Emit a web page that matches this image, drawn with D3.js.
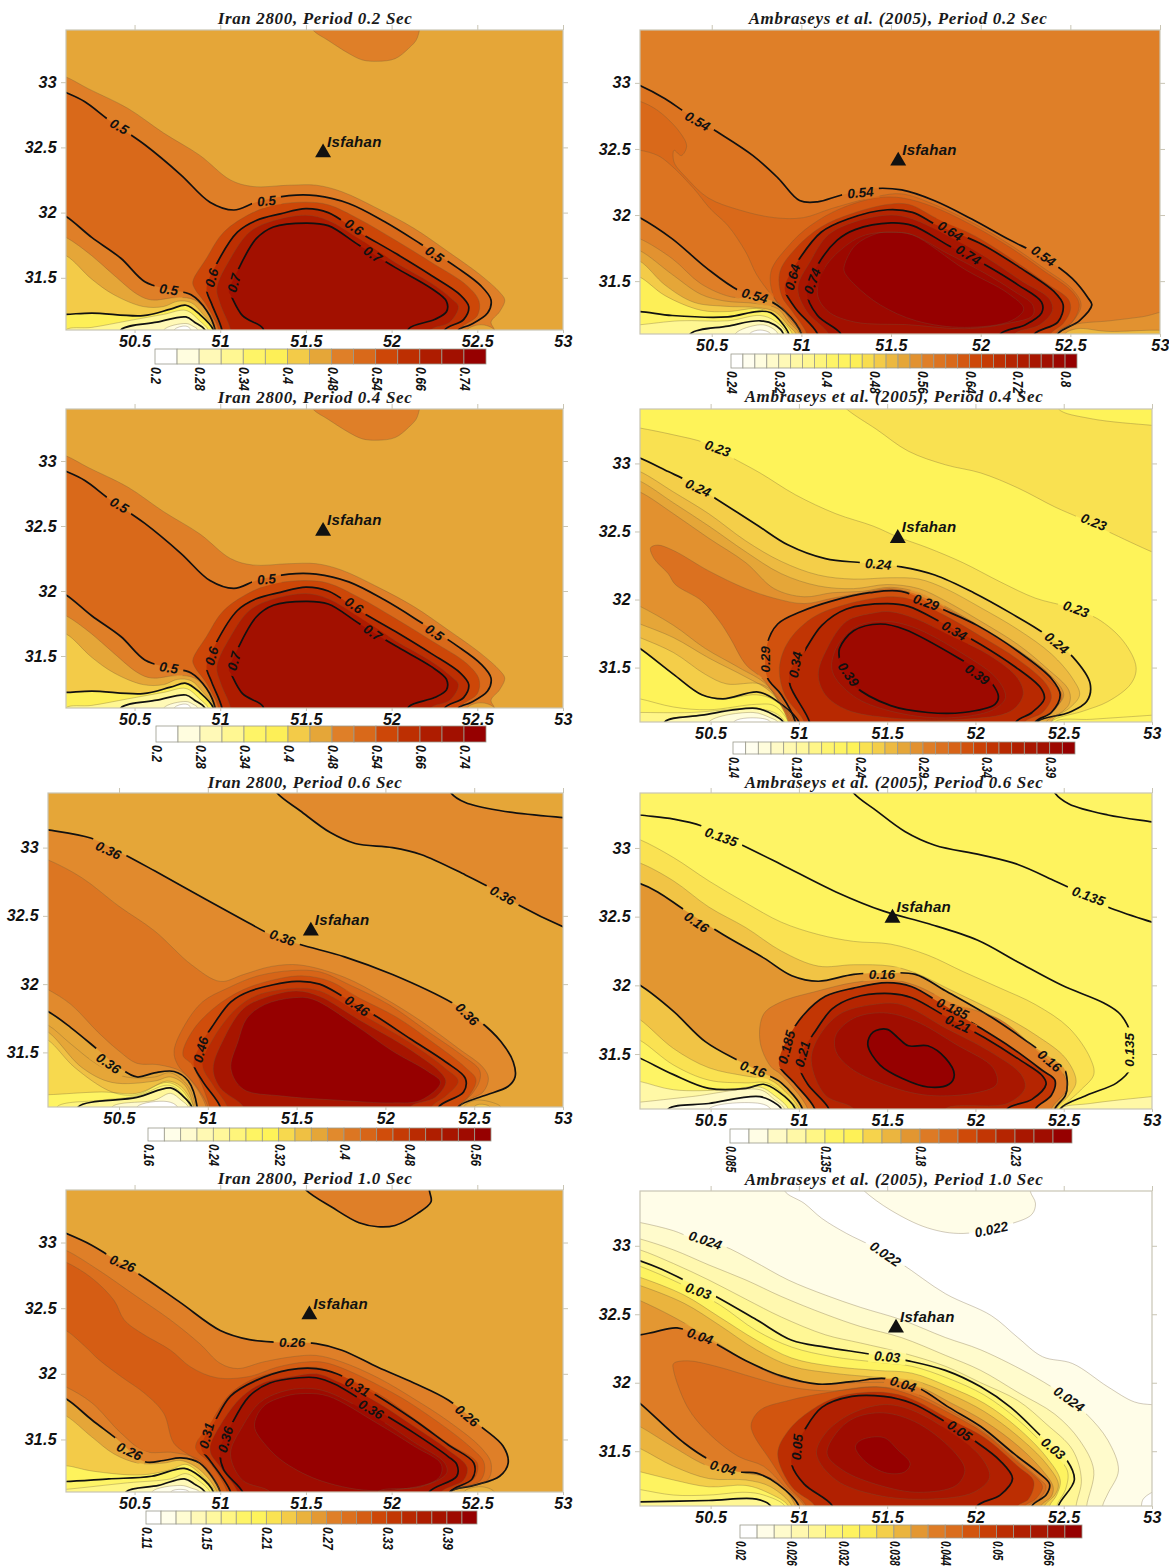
<!DOCTYPE html>
<html>
<head>
<meta charset="utf-8">
<title>Isfahan spectral maps</title>
<script src="https://cdn.jsdelivr.net/npm/d3@7"></script>
<style>
body { margin: 0; background: #fff; }
text { font-family: "Liberation Sans", Arial, sans-serif; font-weight: bold; font-style: italic; fill: #111; }
.title { font-family: "Liberation Serif", "Times New Roman", serif; font-size: 17px; letter-spacing: 0.65px; fill: #1a1a1a; }
</style>
</head>
<body>
<svg id="svg1" width="1169" height="1568"></svg>
<script>
// axes, same in every map
var lonRange = [50.1, 53];
var latRange = [31.1, 33.4];
var lonTicks = [50.5, 51, 51.5, 52, 52.5, 53];
var latTicks = [31.5, 32, 32.5, 33];

// colour bar, 0 = lowest class, 1 = highest class
var rampStops = [0, 0.07, 0.14, 0.21, 0.28, 0.35, 0.43, 0.5, 0.57, 0.64, 0.71, 0.79, 0.86, 0.93, 1];
var rampColors = ["#ffffff", "#fffde0", "#fff9b8", "#fff795", "#fef468", "#fef358", "#f3ca48", "#e5a638", "#df7f28", "#d96a1b", "#ce4808", "#bc2e02", "#ad1b00", "#a21000", "#960000"];

// each ring is [colour class, heavy line?, lon, lat, lon, lat ...], painted in order
var iran02Base = 7;
var iran02Rings = [
  [8, 0, [51.5,33.5, 51.54,33.4, 51.63,33.32, 51.75,33.22, 51.83,33.17, 51.92,33.16, 52.02,33.18, 52.10,33.26, 52.15,33.34, 52.15,33.5]],
  [8, 0, [50,33.08, 50.1,33.04, 50.23,32.95, 50.46,32.8, 50.67,32.61, 50.88,32.44, 51.06,32.25, 51.19,32.2, 51.4,32.21, 51.56,32.21, 51.71,32.16, 51.92,32.03, 52.13,31.88, 52.33,31.7, 52.52,31.52, 52.63,31.39, 52.66,31.33, 52.63,31.24, 52.58,31.16, 52.6,31.1, 52.6,31, 51.01,31, 51.01,31.1, 50.96,31.19, 50.85,31.33, 50.75,31.35, 50.6,31.33, 50.52,31.37, 50.38,31.52, 50.25,31.67, 50.1,31.81, 50,31.86]],
  [9, 1, [50,32.97, 50.1,32.92, 50.21,32.85, 50.35,32.71, 50.56,32.52, 50.77,32.29, 50.94,32.08, 51.08,32.02, 51.21,32.08, 51.4,32.13, 51.56,32.13, 51.75,32.07, 51.96,31.93, 52.17,31.76, 52.38,31.58, 52.52,31.44, 52.58,31.33, 52.56,31.23, 52.46,31.14, 52.39,31.1, 52.39,31, 50.97,31, 50.97,31.1, 50.92,31.25, 50.83,31.37, 50.7,31.41, 50.56,31.47, 50.42,31.65, 50.25,31.81, 50.1,31.97, 50,32.03]],
  [10, 0, [50.84,31.47, 50.92,31.65, 51.02,31.85, 51.19,32, 51.33,32.06, 51.5,32.08, 51.63,32.06, 51.81,31.95, 52.02,31.79, 52.23,31.62, 52.44,31.44, 52.51,31.32, 52.5,31.21, 52.4,31.11, 52.38,31, 50.99,31, 50.99,31.1, 50.92,31.29, 50.85,31.42]],
  [11, 1, [50.92,31.42, 50.98,31.61, 51.1,31.85, 51.21,31.94, 51.35,31.99, 51.5,32.03, 51.63,32, 51.81,31.85, 52.02,31.69, 52.23,31.52, 52.4,31.37, 52.45,31.28, 52.42,31.18, 52.31,31.1, 52.31,31, 51.01,31, 51.01,31.1, 50.95,31.3]],
  [12, 0, [50.98,31.42, 51.06,31.65, 51.17,31.85, 51.29,31.93, 51.5,31.98, 51.63,31.94, 51.81,31.8, 52.02,31.62, 52.23,31.46, 52.35,31.34, 52.39,31.28, 52.34,31.16, 52.23,31.1, 52.23,31, 51.06,31, 51.06,31.1, 51,31.3]],
  [13, 1, [51.05,31.39, 51.1,31.55, 51.21,31.8, 51.31,31.89, 51.5,31.92, 51.63,31.9, 51.81,31.75, 52.02,31.58, 52.23,31.42, 52.32,31.32, 52.32,31.24, 52.25,31.18, 52.1,31.11, 52.08,31, 51.25,31, 51.25,31.11, 51.13,31.21, 51.06,31.37]],
  [6, 0, [50,31.7, 50.1,31.67, 50.25,31.49, 50.38,31.37, 50.55,31.28, 50.67,31.28, 50.75,31.32, 50.83,31.31, 50.9,31.22, 50.97,31.1, 50.97,31, 50,31]],
  [5, 1, [50,31.22, 50.1,31.22, 50.25,31.23, 50.55,31.21, 50.71,31.26, 50.8,31.29, 50.88,31.22, 50.96,31.1, 50.96,31, 50,31]],
  [3, 0, [50.1,31.1, 50.25,31.12, 50.46,31.17, 50.67,31.22, 50.8,31.25, 50.88,31.17, 50.93,31.1, 50.93,31, 50.1,31]],
  [2, 1, [50.42,31.1, 50.63,31.16, 50.8,31.2, 50.85,31.16, 50.91,31.1, 50.91,31, 50.42,31]],
  [1, 0, [50.67,31.1, 50.8,31.15, 50.84,31.13, 50.87,31.1, 50.87,31, 50.67,31]],
  [0, 0, [50.73,31.1, 50.8,31.13, 50.83,31.1, 50.83,31, 50.73,31]],
  [7, 0, [52.44,31.1, 52.52,31.14, 52.6,31.1, 52.6,31, 52.44,31]]
];
var iran02Labels = [["0.5",50.41,32.66,30],["0.5",51.27,32.09,-5],["0.5",52.25,31.68,35],["0.5",50.7,31.41,8],["0.6",50.95,31.5,-75],["0.6",51.78,31.89,35],["0.7",51.08,31.46,-75],["0.7",51.89,31.68,35]];

var amb02Base = 16;
var amb02Rings = [
  [17, 1, [50,33.03, 50.1,32.98, 50.24,32.88, 50.36,32.77, 50.53,32.63, 50.73,32.45, 50.87,32.28, 50.99,32.11, 51.09,32.1, 51.22,32.15, 51.4,32.2, 51.56,32.19, 51.74,32.11, 51.95,31.97, 52.15,31.82, 52.35,31.68, 52.51,31.52, 52.6,31.37, 52.62,31.32, 52.55,31.2, 52.43,31.1, 52.43,31, 51,31, 51,31.1, 50.91,31.27, 50.81,31.36, 50.65,31.43, 50.47,31.6, 50.28,31.82, 50.1,31.98, 50,32.04]],
  [18, 0, [50,32.89, 50.1,32.86, 50.2,32.79, 50.32,32.63, 50.36,32.52, 50.33,32.45, 50.29,32.49, 50.29,32.4, 50.36,32.28, 50.48,32.13, 50.65,32.04, 50.85,31.98, 51.01,31.98, 51.17,32.05, 51.42,32.14, 51.56,32.16, 51.74,32.08, 51.97,31.93, 52.17,31.77, 52.35,31.6, 52.51,31.44, 52.56,31.32, 52.51,31.19, 52.42,31.1, 52.42,31, 51,31, 51,31.1, 50.91,31.27, 50.83,31.4, 50.75,31.55, 50.69,31.72, 50.59,31.92, 50.49,32.05, 50.4,32.2, 50.27,32.38, 50.2,32.45, 50.1,32.49, 50,32.5]],
  [19, 0, [50.83,31.57, 50.93,31.77, 51.05,31.92, 51.22,32.05, 51.42,32.13, 51.56,32.13, 51.74,32.06, 51.97,31.91, 52.17,31.75, 52.35,31.58, 52.51,31.42, 52.55,31.32, 52.51,31.19, 52.42,31.1, 52.42,31, 51.01,31, 51.01,31.1, 50.93,31.24, 50.85,31.37]],
  [21, 0, [50.88,31.57, 50.97,31.75, 51.11,31.91, 51.28,32.01, 51.48,32.08, 51.6,32.08, 51.76,31.97, 51.97,31.84, 52.17,31.67, 52.37,31.48, 52.49,31.36, 52.5,31.28, 52.46,31.18, 52.39,31.1, 52.39,31, 51.03,31, 51.03,31.1, 50.95,31.27, 50.89,31.39]],
  [23, 1, [50.91,31.47, 50.98,31.65, 51.11,31.87, 51.26,31.97, 51.48,32.04, 51.62,32.02, 51.76,31.92, 51.99,31.79, 52.21,31.61, 52.41,31.42, 52.46,31.32, 52.43,31.19, 52.3,31.1, 52.3,31, 51.09,31, 51.09,31.1, 50.97,31.29, 50.91,31.42]],
  [25, 0, [50.98,31.45, 51.05,31.65, 51.15,31.85, 51.3,31.95, 51.5,32, 51.62,31.97, 51.82,31.84, 52.03,31.68, 52.23,31.5, 52.38,31.37, 52.4,31.28, 52.33,31.17, 52.19,31.1, 52.19,31, 51.15,31, 51.15,31.1, 51.03,31.27]],
  [26, 1, [51.03,31.42, 51.09,31.62, 51.2,31.81, 51.3,31.89, 51.5,31.94, 51.62,31.92, 51.82,31.77, 52.03,31.62, 52.21,31.47, 52.34,31.34, 52.34,31.26, 52.25,31.17, 52.11,31.1, 52.11,31, 51.22,31, 51.22,31.1, 51.09,31.24]],
  [27, 0, [51.09,31.4, 51.13,31.6, 51.26,31.78, 51.36,31.85, 51.5,31.87, 51.62,31.85, 51.8,31.72, 52.01,31.57, 52.19,31.42, 52.29,31.32, 52.29,31.24, 52.15,31.18, 51.91,31.14, 51.6,31.17, 51.3,31.19, 51.15,31.27]],
  [28, 0, [51.24,31.62, 51.3,31.77, 51.42,31.86, 51.5,31.87, 51.62,31.85, 51.91,31.59, 52.15,31.41, 52.24,31.29, 52.17,31.2, 51.91,31.15, 51.64,31.2, 51.44,31.32, 51.3,31.47, 51.24,31.57]],
  [15, 0, [50,31.86, 50.1,31.82, 50.28,31.67, 50.44,31.48, 50.61,31.38, 50.77,31.37, 50.87,31.33, 50.94,31.2, 51,31.1, 51,31, 50,31]],
  [14, 0, [50,31.77, 50.1,31.73, 50.28,31.55, 50.44,31.4, 50.57,31.35, 50.75,31.33, 50.87,31.29, 50.93,31.19, 50.99,31.1, 50.99,31, 50,31]],
  [12, 0, [50,31.69, 50.1,31.65, 50.24,31.47, 50.4,31.34, 50.57,31.31, 50.75,31.3, 50.85,31.27, 50.93,31.16, 50.97,31.1, 50.97,31, 50,31]],
  [10, 0, [50,31.57, 50.1,31.53, 50.24,31.39, 50.44,31.28, 50.59,31.27, 50.77,31.29, 50.87,31.22, 50.95,31.1, 50.95,31, 50,31]],
  [8, 1, [50,31.27, 50.1,31.27, 50.28,31.24, 50.59,31.23, 50.75,31.27, 50.83,31.26, 50.93,31.1, 50.93,31, 50,31]],
  [6, 0, [50,31.16, 50.1,31.17, 50.32,31.2, 50.59,31.2, 50.77,31.24, 50.85,31.2, 50.92,31.1, 50.92,31, 50,31]],
  [4, 1, [50.38,31.1, 50.59,31.16, 50.77,31.2, 50.85,31.17, 50.9,31.1, 50.9,31, 50.38,31]],
  [2, 0, [50.63,31.1, 50.77,31.17, 50.83,31.15, 50.87,31.1, 50.87,31, 50.63,31]],
  [0, 0, [50.71,31.1, 50.77,31.13, 50.83,31.1, 50.83,31, 50.71,31]],
  [15, 0, [52.42,31.1, 52.52,31.17, 52.72,31.2, 52.9,31.23, 53.1,31.27, 53.1,31, 52.42,31]],
  [13, 0, [52.47,31.1, 52.54,31.14, 52.7,31.12, 53.1,31.1, 53.1,31, 52.47,31]]
];
var amb02Labels = [["0.54",50.42,32.71,30],["0.54",51.33,32.17,-5],["0.54",52.35,31.69,35],["0.54",50.74,31.39,15],["0.64",50.95,31.53,-75],["0.64",51.83,31.88,32],["0.74",51.06,31.5,-70],["0.74",51.93,31.7,32]];

var amb04Base = 9;
var amb04Rings = [
  [10, 0, [51.2,33.5, 51.27,33.4, 51.44,33.25, 51.62,33.09, 51.83,32.99, 52.03,32.93, 52.24,32.82, 52.45,32.68, 52.59,32.6, 52.75,32.5, 53,32.35, 53.1,32.3, 53.1,33.5]],
  [9, 0, [52.45,33.5, 52.47,33.4, 52.65,33.33, 53,33.28, 53.1,33.27, 53.1,33.5]],
  [10, 0, [50,33.28, 50.1,33.26, 50.29,33.21, 50.47,33.15, 50.61,33.05, 50.78,32.93, 50.98,32.77, 51.21,32.63, 51.42,32.54, 51.56,32.46, 51.73,32.38, 51.93,32.27, 52.14,32.13, 52.34,32.01, 52.51,31.95, 52.69,31.86, 52.84,31.69, 52.91,31.5, 52.88,31.38, 52.75,31.25, 52.61,31.18, 52.43,31.1, 52.43,31, 50.98,31, 50.98,31.1, 50.86,31.26, 50.76,31.3, 50.57,31.27, 50.45,31.3, 50.29,31.45, 50.1,31.64, 50,31.72]],
  [11, 1, [50,33.08, 50.1,33.04, 50.26,32.94, 50.37,32.87, 50.53,32.74, 50.76,32.55, 50.94,32.4, 51.15,32.3, 51.36,32.27, 51.58,32.24, 51.77,32.18, 51.99,32.05, 52.2,31.9, 52.39,31.75, 52.55,31.58, 52.65,31.38, 52.63,31.25, 52.53,31.17, 52.35,31.1, 52.35,31, 51,31, 51,31.1, 50.88,31.25, 50.77,31.32, 50.57,31.27, 50.45,31.3, 50.29,31.45, 50.1,31.64, 50,31.72]],
  [12, 0, [50,32.98, 50.1,32.94, 50.29,32.79, 50.49,32.63, 50.7,32.43, 50.9,32.28, 51.11,32.18, 51.31,32.15, 51.52,32.16, 51.68,32.15, 51.83,32.08, 52.03,31.94, 52.24,31.78, 52.43,31.6, 52.55,31.42, 52.59,31.3, 52.53,31.2, 52.4,31.1, 52.4,31, 50.97,31, 50.97,31.1, 50.88,31.29, 50.78,31.38, 50.59,31.38, 50.47,31.45, 50.29,31.61, 50.1,31.72, 50,31.77]],
  [13, 0, [50,32.91, 50.1,32.87, 50.29,32.71, 50.49,32.54, 50.7,32.35, 50.9,32.19, 51.11,32.1, 51.31,32.08, 51.5,32.11, 51.68,32.08, 51.83,31.99, 52.03,31.84, 52.24,31.67, 52.4,31.5, 52.53,31.33, 52.53,31.23, 52.43,31.1, 52.43,31, 50.96,31, 50.96,31.1, 50.84,31.32, 50.7,31.43, 50.49,31.57, 50.29,31.72, 50.1,31.82, 50,31.87]],
  [14, 0, [50,32.83, 50.1,32.79, 50.29,32.63, 50.49,32.45, 50.7,32.27, 50.86,32.08, 51.03,32.02, 51.19,32.05, 51.36,32.06, 51.52,32.09, 51.68,32.05, 51.83,31.95, 52.03,31.8, 52.24,31.63, 52.42,31.45, 52.5,31.3, 52.45,31.2, 52.36,31.1, 52.36,31, 50.95,31, 50.95,31.1, 50.82,31.37, 50.66,31.5, 50.47,31.64, 50.29,31.81, 50.1,31.95, 50,32.01]],
  [16, 0, [50.16,32.38, 50.2,32.4, 50.29,32.36, 50.49,32.21, 50.7,32.08, 50.86,32.01, 51.03,31.97, 51.19,32.01, 51.36,32.05, 51.52,32.08, 51.64,32.05, 51.83,31.94, 52.03,31.79, 52.24,31.62, 52.4,31.42, 52.49,31.3, 52.45,31.19, 52.36,31.1, 52.36,31, 50.94,31, 50.94,31.1, 50.8,31.41, 50.7,31.52, 50.61,31.72, 50.55,31.84, 50.45,31.99, 50.3,32.11, 50.26,32.19, 50.18,32.3]],
  [18, 1, [50.82,31.43, 50.82,31.67, 50.88,31.82, 51.01,31.91, 51.19,31.99, 51.4,32.05, 51.58,32.06, 51.81,31.93, 52.01,31.81, 52.24,31.62, 52.43,31.42, 52.48,31.3, 52.43,31.17, 52.34,31.1, 52.34,31, 50.98,31, 50.98,31.1, 50.9,31.3]],
  [20, 0, [50.89,31.5, 50.94,31.69, 51.07,31.86, 51.23,31.95, 51.5,32.02, 51.64,32, 51.83,31.88, 52.03,31.73, 52.24,31.56, 52.4,31.38, 52.43,31.28, 52.38,31.17, 52.28,31.1, 52.28,31, 51.03,31, 51.03,31.1, 50.92,31.3]],
  [21, 1, [50.95,31.47, 51.03,31.62, 51.13,31.81, 51.27,31.93, 51.5,31.97, 51.62,31.95, 51.81,31.83, 52.03,31.67, 52.22,31.51, 52.37,31.35, 52.39,31.27, 52.32,31.17, 52.23,31.1, 52.23,31, 51.06,31, 51.06,31.1, 50.95,31.37]],
  [23, 0, [51.11,31.45, 51.16,31.64, 51.27,31.84, 51.42,31.9, 51.52,31.91, 51.66,31.86, 51.85,31.74, 52.08,31.59, 52.24,31.42, 52.27,31.3, 52.2,31.18, 51.93,31.12, 51.52,31.13, 51.27,31.19, 51.15,31.3]],
  [24, 0, [51.19,31.47, 51.21,31.64, 51.31,31.79, 51.46,31.84, 51.64,31.8, 51.93,31.6, 52.12,31.42, 52.17,31.28, 52.1,31.19, 51.83,31.13, 51.52,31.18, 51.31,31.29]],
  [25, 1, [51.23,31.56, 51.23,31.64, 51.31,31.77, 51.46,31.82, 51.6,31.78, 51.93,31.55, 52.05,31.45, 52.13,31.29, 52.11,31.23, 51.93,31.17, 51.73,31.17, 51.52,31.22, 51.31,31.37, 51.24,31.5]],
  [8, 0, [50,31.29, 50.1,31.27, 50.29,31.21, 50.49,31.19, 50.76,31.23, 50.86,31.22, 50.94,31.1, 50.94,31, 50,31]],
  [6, 0, [50,31.17, 50.1,31.17, 50.39,31.17, 50.74,31.2, 50.86,31.17, 50.92,31.1, 50.92,31, 50,31]],
  [4, 1, [50.24,31.1, 50.45,31.15, 50.76,31.2, 50.86,31.15, 50.91,31.1, 50.91,31, 50.24,31]],
  [2, 0, [50.49,31.1, 50.74,31.17, 50.84,31.13, 50.88,31.1, 50.88,31, 50.49,31]],
  [0, 0, [50.63,31.1, 50.76,31.13, 50.84,31.1, 50.84,31, 50.63,31]],
  [8, 0, [52.45,31.1, 52.66,31.12, 53,31.15, 53.1,31.16, 53.1,31, 52.45,31]]
];
var amb04Labels = [["0.23",50.54,33.11,20],["0.23",52.67,32.57,22],["0.23",52.57,31.93,20],["0.24",50.43,32.82,25],["0.24",51.45,32.26,5],["0.24",52.46,31.68,40],["0.29",51.72,31.98,20],["0.29",50.81,31.56,-90],["0.34",51.88,31.77,30],["0.34",50.98,31.52,-80],["0.39",51.28,31.45,55],["0.39",52.01,31.45,35]];

var iran06Base = 10;
var iran06Rings = [
  [11, 1, [51.35,33.5, 51.39,33.4, 51.52,33.27, 51.69,33.11, 51.83,33.03, 52.04,33, 52.2,32.95, 52.45,32.8, 52.57,32.72, 52.75,32.58, 53,32.42, 53.1,32.37, 53.1,33.5]],
  [10, 1, [52.35,33.5, 52.37,33.4, 52.45,33.33, 52.65,33.27, 53,33.22, 53.1,33.21, 53.1,33.5]],
  [11, 1, [50,33.15, 50.1,33.13, 50.34,33.07, 50.5,32.97, 50.7,32.83, 50.99,32.62, 51.2,32.47, 51.36,32.36, 51.52,32.29, 51.77,32.2, 52.04,32.07, 52.38,31.86, 52.53,31.73, 52.65,31.58, 52.72,31.43, 52.73,31.32, 52.69,31.25, 52.55,31.18, 52.41,31.1, 52.41,31, 50.94,31, 50.94,31.1, 50.89,31.29, 50.81,31.36, 50.7,31.35, 50.6,31.32, 50.5,31.39, 50.38,31.52, 50.23,31.68, 50.1,31.8, 50,31.85]],
  [12, 0, [50,32.95, 50.1,32.91, 50.29,32.78, 50.5,32.57, 50.7,32.39, 50.91,32.14, 51.07,32.02, 51.2,32.07, 51.36,32.13, 51.52,32.14, 51.77,32.05, 51.99,31.9, 52.2,31.73, 52.41,31.53, 52.55,31.39, 52.58,31.31, 52.55,31.21, 52.43,31.12, 52.42,31, 50.99,31, 50.99,31.1, 50.93,31.25, 50.85,31.36, 50.72,31.41, 50.6,31.42, 50.5,31.51, 50.38,31.65, 50.23,31.85, 50.1,31.96, 50,32.02]],
  [13, 0, [50.81,31.51, 50.87,31.7, 50.97,31.87, 51.11,31.97, 51.28,32.06, 51.48,32.1, 51.63,32.09, 51.79,32, 52.02,31.85, 52.22,31.67, 52.43,31.48, 52.53,31.37, 52.53,31.29, 52.49,31.2, 52.42,31.1, 52.42,31, 51,31, 51,31.1, 50.93,31.26, 50.83,31.41]],
  [14, 0, [50.86,31.48, 50.91,31.65, 51.03,31.82, 51.2,31.96, 51.4,32.04, 51.54,32.06, 51.69,32.02, 51.85,31.9, 52.06,31.76, 52.26,31.58, 52.45,31.39, 52.51,31.3, 52.47,31.18, 52.41,31.1, 52.41,31, 51.01,31, 51.01,31.1, 50.91,31.41]],
  [15, 1, [50.92,31.42, 50.97,31.58, 51.02,31.68, 51.13,31.87, 51.24,31.95, 51.5,32.02, 51.63,32, 51.76,31.91, 51.93,31.78, 52.14,31.6, 52.34,31.43, 52.45,31.31, 52.44,31.21, 52.3,31.1, 52.3,31, 51.07,31, 51.07,31.1, 50.97,31.29]],
  [16, 0, [50.97,31.41, 51.03,31.6, 51.16,31.82, 51.28,31.92, 51.5,31.97, 51.63,31.95, 51.85,31.79, 52.14,31.57, 52.34,31.38, 52.41,31.29, 52.34,31.18, 52.26,31.1, 52.26,31, 51.11,31, 51.11,31.1, 51.03,31.26]],
  [18, 0, [51.03,31.38, 51.09,31.6, 51.2,31.82, 51.32,31.9, 51.5,31.95, 51.63,31.91, 51.85,31.74, 52.14,31.52, 52.32,31.34, 52.34,31.28, 52.28,31.17, 52.14,31.1, 52.14,31, 51.2,31, 51.2,31.1, 51.07,31.24]],
  [20, 0, [51.13,31.38, 51.17,31.58, 51.22,31.75, 51.32,31.85, 51.48,31.9, 51.59,31.89, 51.83,31.7, 52.04,31.51, 52.24,31.36, 52.31,31.28, 52.2,31.15, 52.04,31.13, 51.73,31.15, 51.42,31.18, 51.2,31.23]],
  [10, 0, [50,31.75, 50.1,31.7, 50.23,31.56, 50.38,31.41, 50.54,31.32, 50.7,31.32, 50.79,31.35, 50.89,31.25, 50.93,31.1, 50.93,31, 50,31]],
  [9, 0, [50,31.7, 50.1,31.65, 50.29,31.39, 50.46,31.28, 50.7,31.29, 50.79,31.32, 50.87,31.26, 50.92,31.1, 50.92,31, 50,31]],
  [8, 0, [50,31.64, 50.1,31.59, 50.25,31.39, 50.46,31.21, 50.6,31.19, 50.77,31.29, 50.85,31.25, 50.92,31.1, 50.92,31, 50,31]],
  [6, 0, [50,31.19, 50.1,31.19, 50.4,31.21, 50.6,31.2, 50.77,31.28, 50.85,31.23, 50.91,31.1, 50.91,31, 50,31]],
  [5, 0, [50.15,31.1, 50.4,31.15, 50.6,31.18, 50.77,31.26, 50.83,31.23, 50.9,31.1, 50.9,31, 50.15,31]],
  [4, 1, [50.27,31.1, 50.6,31.17, 50.79,31.24, 50.86,31.18, 50.91,31.1, 50.91,31, 50.27,31]],
  [2, 0, [50.46,31.1, 50.7,31.15, 50.79,31.2, 50.85,31.15, 50.89,31.1, 50.89,31, 50.46,31]],
  [0, 0, [50.6,31.1, 50.77,31.14, 50.83,31.1, 50.83,31, 50.6,31]],
  [10, 0, [52.44,31.1, 52.51,31.15, 52.61,31.13, 52.65,31.1, 52.65,31, 52.44,31]],
  [9, 0, [52.5,31.1, 52.53,31.12, 52.59,31.1, 52.59,31, 52.5,31]]
];
var iran06Labels = [["0.36",50.44,32.98,25],["0.36",51.42,32.34,20],["0.36",52.66,32.65,30],["0.36",52.46,31.78,45],["0.36",50.44,31.42,35],["0.46",51.84,31.84,35],["0.46",50.96,31.52,-75]];

var amb06Base = 5;
var amb06Rings = [
  [5.5, 1, [51.27,33.5, 51.31,33.4, 51.44,33.27, 51.6,33.12, 51.77,33.02, 52.03,32.95, 52.24,32.88, 52.45,32.76, 52.55,32.7, 52.75,32.57, 53,32.46, 53.1,32.42, 53.1,33.5]],
  [5, 1, [52.42,33.5, 52.45,33.4, 52.53,33.32, 52.75,33.24, 53,33.19, 53.1,33.17, 53.1,33.5]],
  [5.5, 1, [50,33.26, 50.1,33.24, 50.29,33.21, 50.45,33.16, 50.68,33.02, 50.9,32.88, 51.21,32.68, 51.48,32.54, 51.73,32.45, 52.01,32.33, 52.24,32.17, 52.49,32, 52.73,31.87, 52.82,31.79, 52.88,31.64, 52.88,31.4, 52.8,31.29, 52.63,31.2, 52.48,31.1, 52.48,31, 50.98,31, 50.98,31.1, 50.88,31.23, 50.8,31.28, 50.7,31.25, 50.49,31.25, 50.29,31.35, 50.1,31.47, 50,31.52]],
  [6.5, 0, [50,33.1, 50.1,33.06, 50.29,32.93, 50.49,32.76, 50.7,32.6, 50.9,32.46, 51.11,32.37, 51.31,32.32, 51.52,32.3, 51.73,32.22, 51.93,32.1, 52.14,31.98, 52.34,31.86, 52.53,31.69, 52.65,31.47, 52.67,31.35, 52.59,31.23, 52.49,31.1, 52.49,31, 50.99,31, 50.99,31.1, 50.92,31.2, 50.82,31.29, 50.7,31.29, 50.49,31.31, 50.29,31.42, 50.1,31.6, 50,31.65]],
  [7.5, 0, [50,32.92, 50.1,32.89, 50.29,32.76, 50.49,32.57, 50.7,32.42, 50.9,32.25, 51.11,32.14, 51.31,32.15, 51.52,32.14, 51.66,32.09, 51.87,31.96, 52.14,31.79, 52.34,31.64, 52.51,31.47, 52.57,31.3, 52.53,31.2, 52.46,31.1, 52.46,31, 51,31, 51,31.1, 50.92,31.23, 50.84,31.31, 50.7,31.34, 50.49,31.4, 50.29,31.54, 50.1,31.75, 50,31.82]],
  [9, 1, [50,32.77, 50.1,32.74, 50.2,32.68, 50.35,32.55, 50.57,32.37, 50.8,32.2, 50.96,32.07, 51.11,32.03, 51.31,32.08, 51.5,32.09, 51.66,32.08, 51.83,31.96, 52.1,31.76, 52.36,31.53, 52.5,31.4, 52.52,31.3, 52.51,31.2, 52.45,31.1, 52.45,31, 51.02,31, 51.02,31.1, 50.9,31.29, 50.8,31.36, 50.66,31.45, 50.47,31.59, 50.29,31.81, 50.1,32, 50,32.06]],
  [10, 0, [50.78,31.59, 50.8,31.79, 50.9,31.88, 51.11,31.96, 51.31,32.02, 51.52,32.04, 51.66,32, 51.87,31.87, 52.14,31.75, 52.38,31.49, 52.49,31.37, 52.52,31.25, 52.43,31.1, 52.43,31, 51.05,31, 51.05,31.1, 50.9,31.35, 50.84,31.41]],
  [13, 1, [50.89,31.47, 50.94,31.62, 51.03,31.79, 51.15,31.92, 51.31,31.98, 51.5,32.02, 51.64,31.99, 51.79,31.88, 51.99,31.72, 52.2,31.55, 52.38,31.38, 52.45,31.31, 52.43,31.2, 52.34,31.1, 52.34,31, 51.09,31, 51.09,31.1, 50.98,31.28, 50.89,31.41]],
  [14, 1, [51,31.47, 51.09,31.66, 51.19,31.83, 51.31,31.91, 51.52,31.94, 51.64,31.91, 51.85,31.76, 52.05,31.62, 52.26,31.45, 52.38,31.34, 52.4,31.28, 52.32,31.17, 52.18,31.1, 52.18,31, 51.17,31, 51.17,31.1, 51.05,31.28, 51,31.41]],
  [15, 0, [51.07,31.45, 51.11,31.62, 51.23,31.79, 51.42,31.86, 51.58,31.86, 51.83,31.69, 52.08,31.52, 52.26,31.35, 52.28,31.25, 52.18,31.14, 51.83,31.1, 51.83,31, 51.31,31, 51.31,31.1, 51.15,31.2]],
  [16, 0, [51.21,31.52, 51.21,31.64, 51.31,31.76, 51.48,31.8, 51.66,31.74, 51.89,31.57, 52.1,31.4, 52.12,31.28, 52.01,31.22, 51.73,31.2, 51.48,31.28, 51.29,31.4]],
  [17, 1, [51.39,31.57, 51.42,31.66, 51.5,31.68, 51.56,31.62, 51.62,31.56, 51.73,31.56, 51.83,31.47, 51.88,31.35, 51.85,31.28, 51.73,31.26, 51.59,31.32, 51.46,31.42]],
  [3, 0, [50,31.32, 50.1,31.3, 50.29,31.24, 50.59,31.24, 50.78,31.26, 50.86,31.2, 50.94,31.1, 50.94,31, 50,31]],
  [2, 0, [50,31.14, 50.1,31.15, 50.39,31.19, 50.78,31.24, 50.86,31.17, 50.92,31.1, 50.92,31, 50,31]],
  [1, 1, [50.26,31.1, 50.49,31.14, 50.78,31.19, 50.88,31.13, 50.9,31.1, 50.9,31, 50.26,31]],
  [0, 0, [50.49,31.1, 50.78,31.14, 50.84,31.1, 50.84,31, 50.49,31]],
  [3, 0, [52.48,31.1, 52.65,31.14, 53,31.19, 53.1,31.2, 53.1,31, 52.48,31]]
];
var amb06Labels = [["0.135",50.56,33.08,20],["0.135",52.64,32.65,20],["0.135",52.87,31.53,-90],["0.16",50.42,32.46,35],["0.16",51.47,32.08,0],["0.16",52.42,31.45,40],["0.16",50.74,31.39,20],["0.185",51.87,31.83,25],["0.185",50.93,31.55,-75],["0.21",51.9,31.72,25],["0.21",51.02,31.5,-75]];

var iran10Base = 10.5;
var iran10Rings = [
  [12, 1, [51.45,33.5, 51.5,33.4, 51.65,33.27, 51.81,33.15, 51.92,33.12, 52.02,33.13, 52.15,33.22, 52.23,33.31, 52.22,33.4, 52.22,33.5]],
  [12, 1, [50,33.12, 50.1,33.07, 50.25,32.98, 50.35,32.9, 50.56,32.73, 50.77,32.54, 51,32.33, 51.17,32.26, 51.33,32.24, 51.56,32.23, 51.71,32.18, 51.92,32.05, 52.13,31.93, 52.33,31.8, 52.52,31.6, 52.65,31.45, 52.68,31.32, 52.63,31.22, 52.48,31.15, 52.34,31.1, 52.34,31, 51,31, 51,31.1, 50.88,31.32, 50.77,31.36, 50.67,31.34, 50.56,31.33, 50.4,31.5, 50.25,31.65, 50.1,31.81, 50,31.86]],
  [13, 0, [50,32.98, 50.1,32.94, 50.29,32.79, 50.5,32.6, 50.71,32.41, 50.88,32.23, 51,32.08, 51.1,32.04, 51.25,32.09, 51.42,32.13, 51.56,32.14, 51.71,32.09, 51.92,31.97, 52.13,31.81, 52.33,31.64, 52.52,31.44, 52.58,31.32, 52.56,31.19, 52.35,31.1, 52.35,31, 51,31, 51,31.1, 50.88,31.34, 50.73,31.4, 50.56,31.41, 50.42,31.55, 50.25,31.78, 50.1,31.9, 50,31.95]],
  [14, 0, [50,32.89, 50.1,32.85, 50.25,32.73, 50.38,32.56, 50.44,32.41, 50.54,32.31, 50.71,32.18, 50.83,32.05, 50.98,31.97, 51.17,31.98, 51.33,32.05, 51.5,32.09, 51.63,32.08, 52,31.86, 52.23,31.67, 52.46,31.44, 52.54,31.32, 52.52,31.19, 52.35,31.1, 52.35,31, 51,31, 51,31.1, 50.9,31.29, 50.83,31.37, 50.73,31.47, 50.67,31.7, 50.56,31.85, 50.42,31.98, 50.29,32.11, 50.21,32.21, 50.1,32.33, 50,32.38]],
  [15, 0, [50.86,31.47, 50.94,31.62, 51.06,31.85, 51.21,31.97, 51.4,32.03, 51.56,32.05, 51.68,32, 51.92,31.85, 52.13,31.66, 52.33,31.47, 52.5,31.32, 52.48,31.2, 52.35,31.1, 52.35,31, 51.04,31, 51.04,31.1, 50.94,31.32, 50.86,31.42]],
  [16, 1, [50.91,31.52, 50.96,31.62, 51.06,31.83, 51.21,31.95, 51.4,32.03, 51.56,32.04, 51.68,32, 51.92,31.83, 52.13,31.65, 52.33,31.46, 52.48,31.32, 52.47,31.2, 52.34,31.1, 52.34,31, 51.06,31, 51.06,31.1, 50.94,31.34, 50.89,31.43]],
  [18, 0, [50.94,31.42, 51.02,31.65, 51.13,31.83, 51.25,31.93, 51.42,31.98, 51.56,32, 51.67,31.95, 51.92,31.78, 52.13,31.6, 52.33,31.42, 52.44,31.29, 52.42,31.19, 52.29,31.1, 52.29,31, 51.1,31, 51.1,31.1, 51,31.29]],
  [19, 1, [51,31.42, 51.06,31.6, 51.17,31.83, 51.29,31.93, 51.46,31.97, 51.56,31.97, 51.67,31.92, 51.92,31.72, 52.13,31.55, 52.33,31.37, 52.38,31.31, 52.38,31.22, 52.22,31.1, 52.22,31, 51.13,31, 51.13,31.1, 51.02,31.27]],
  [20, 0, [51.06,31.39, 51.13,31.6, 51.23,31.78, 51.35,31.86, 51.5,31.89, 51.63,31.86, 51.92,31.66, 52.13,31.48, 52.31,31.32, 52.32,31.24, 52.17,31.14, 51.92,31.1, 51.92,31, 51.29,31, 51.29,31.1, 51.13,31.19]],
  [21, 0, [51.2,31.6, 51.25,31.75, 51.38,31.83, 51.5,31.85, 51.63,31.83, 51.92,31.62, 52.13,31.45, 52.29,31.31, 52.27,31.2, 51.92,31.11, 51.6,31.18, 51.38,31.32, 51.27,31.45]],
  [9, 0, [50,31.73, 50.1,31.68, 50.25,31.52, 50.38,31.39, 50.52,31.32, 50.67,31.32, 50.77,31.34, 50.88,31.27, 50.98,31.1, 50.98,31, 50,31]],
  [7, 0, [50,31.29, 50.1,31.3, 50.25,31.26, 50.54,31.23, 50.71,31.27, 50.8,31.31, 50.88,31.24, 50.97,31.1, 50.97,31, 50,31]],
  [6, 1, [50,31.18, 50.1,31.18, 50.35,31.2, 50.6,31.22, 50.79,31.28, 50.88,31.22, 50.96,31.1, 50.96,31, 50,31]],
  [5, 0, [50,31.11, 50.1,31.12, 50.46,31.17, 50.71,31.2, 50.8,31.24, 50.87,31.19, 50.94,31.1, 50.94,31, 50,31]],
  [3, 1, [50.45,31.1, 50.64,31.15, 50.79,31.2, 50.85,31.16, 50.91,31.1, 50.91,31, 50.45,31]],
  [1, 0, [50.6,31.1, 50.77,31.15, 50.83,31.13, 50.88,31.1, 50.88,31, 50.6,31]],
  [0, 0, [50.71,31.1, 50.77,31.12, 50.82,31.1, 50.82,31, 50.71,31]],
  [10, 0, [52.42,31.1, 52.52,31.14, 52.6,31.1, 52.6,31, 52.42,31]]
];
var iran10Labels = [["0.26",50.43,32.84,22],["0.26",51.42,32.24,0],["0.26",52.44,31.68,40],["0.26",50.47,31.41,25],["0.31",51.8,31.9,30],["0.31",50.92,31.53,-75],["0.36",51.88,31.73,30],["0.36",51.03,31.5,-75]];

var amb10Base = 0;
var amb10Rings = [
  [1, 0, [50,33.5, 50.92,33.5, 50.92,33.4, 51.03,33.31, 51.13,33.2, 51.27,33.09, 51.41,33, 51.58,32.87, 51.83,32.65, 52.09,32.49, 52.24,32.33, 52.38,32.19, 52.55,32.14, 52.75,31.97, 52.9,31.86, 53,31.84, 53.1,31.84, 53.1,31, 50,31]],
  [1, 0, [51.3,33.5, 51.37,33.4, 51.52,33.26, 51.73,33.13, 51.93,33.09, 52.2,33.16, 52.32,33.23, 52.34,33.31, 52.31,33.4, 52.31,33.5]],
  [0, 0, [52.94,31, 52.94,31.1, 52.95,31.15, 53,31.2, 53.1,31.25, 53.1,31]],
  [2, 0, [50,33.19, 50.1,33.17, 50.29,33.11, 50.39,33.06, 50.57,33, 50.74,32.89, 50.94,32.75, 51.15,32.64, 51.35,32.55, 51.58,32.46, 51.83,32.33, 52.03,32.24, 52.34,32.04, 52.51,31.9, 52.63,31.77, 52.75,31.58, 52.81,31.36, 52.75,31.19, 52.72,31.1, 52.72,31, 50,31]],
  [3, 0, [50,33.08, 50.1,33.05, 50.29,32.97, 50.49,32.86, 50.7,32.75, 50.9,32.63, 51.15,32.5, 51.35,32.41, 51.58,32.33, 51.83,32.2, 52.03,32.09, 52.24,31.93, 52.45,31.77, 52.59,31.58, 52.67,31.36, 52.63,31.1, 52.63,31, 50,31]],
  [4, 0, [50,33, 50.1,32.97, 50.29,32.87, 50.49,32.75, 50.7,32.61, 50.9,32.48, 51.15,32.35, 51.35,32.29, 51.58,32.22, 51.83,32.12, 52.03,32, 52.24,31.87, 52.4,31.7, 52.55,31.51, 52.6,31.29, 52.57,31.1, 52.57,31, 50,31]],
  [5, 1, [50,32.93, 50.1,32.89, 50.22,32.83, 50.35,32.75, 50.53,32.63, 50.76,32.46, 50.96,32.31, 51.15,32.26, 51.4,32.21, 51.62,32.16, 51.83,32.09, 52.03,31.97, 52.2,31.82, 52.38,31.6, 52.52,31.43, 52.56,31.29, 52.47,31.1, 52.47,31, 50.84,31, 50.84,31.1, 50.76,31.15, 50.49,31.14, 50.1,31.13, 50,31.13]],
  [6, 0, [50,32.89, 50.1,32.85, 50.35,32.71, 50.55,32.57, 50.76,32.38, 50.96,32.26, 51.19,32.19, 51.44,32.15, 51.64,32.12, 51.85,32.03, 52.05,31.91, 52.24,31.73, 52.4,31.53, 52.52,31.36, 52.51,31.22, 52.46,31.1, 52.46,31, 50.92,31, 50.92,31.1, 50.8,31.18, 50.7,31.2, 50.49,31.18, 50.29,31.18, 50.1,31.22, 50,31.24]],
  [8, 0, [50,32.81, 50.1,32.77, 50.35,32.64, 50.55,32.48, 50.76,32.31, 50.96,32.18, 51.19,32.12, 51.44,32.09, 51.64,32.07, 51.85,31.97, 52.05,31.85, 52.24,31.67, 52.4,31.46, 52.48,31.29, 52.46,31.18, 52.42,31.1, 52.42,31, 50.94,31, 50.94,31.1, 50.82,31.2, 50.7,31.25, 50.49,31.24, 50.29,31.29, 50.1,31.35, 50,31.38]],
  [9, 0, [50,32.75, 50.1,32.71, 50.35,32.58, 50.55,32.42, 50.76,32.24, 50.96,32.12, 51.19,32.07, 51.44,32.04, 51.64,32.02, 51.85,31.92, 52.05,31.79, 52.24,31.61, 52.4,31.41, 52.47,31.26, 52.45,31.18, 52.39,31.1, 52.39,31, 50.96,31, 50.96,31.1, 50.84,31.24, 50.7,31.29, 50.49,31.3, 50.29,31.39, 50.1,31.52, 50,31.57]],
  [10, 0, [50,32.65, 50.1,32.6, 50.29,32.48, 50.49,32.33, 50.7,32.16, 50.9,32.04, 51.11,31.99, 51.31,32, 51.52,32, 51.68,31.97, 51.85,31.86, 52.05,31.72, 52.24,31.54, 52.38,31.36, 52.44,31.24, 52.43,31.17, 52.37,31.1, 52.37,31, 50.98,31, 50.98,31.1, 50.86,31.29, 50.7,31.34, 50.49,31.39, 50.29,31.53, 50.1,31.68, 50,31.74]],
  [11, 1, [50,32.34, 50.1,32.35, 50.18,32.37, 50.31,32.4, 50.49,32.31, 50.7,32.16, 50.9,32.05, 51.11,31.99, 51.31,32.01, 51.49,32.03, 51.68,31.96, 51.85,31.82, 52.03,31.68, 52.22,31.48, 52.36,31.34, 52.42,31.26, 52.4,31.18, 52.32,31.1, 52.32,31, 51,31, 51,31.1, 50.88,31.26, 50.76,31.34, 50.66,31.35, 50.49,31.44, 50.35,31.56, 50.1,31.85, 50,31.95]],
  [12, 0, [50.29,32.09, 50.29,32.14, 50.37,32.16, 50.53,32.12, 50.74,32.04, 50.94,31.97, 51.19,31.94, 51.44,31.97, 51.64,31.93, 51.85,31.8, 52.05,31.64, 52.24,31.43, 52.36,31.3, 52.4,31.24, 52.36,31.15, 52.3,31.1, 52.3,31, 51.03,31, 51.03,31.1, 50.92,31.24, 50.8,31.39, 50.66,31.46, 50.49,31.63, 50.37,31.82]],
  [13, 0, [50.73,31.7, 50.78,31.8, 50.94,31.87, 51.17,31.93, 51.44,31.97, 51.64,31.91, 51.85,31.78, 52.05,31.63, 52.24,31.42, 52.35,31.3, 52.38,31.24, 52.34,31.15, 52.28,31.1, 52.28,31, 51.04,31, 51.04,31.1, 50.94,31.24, 50.84,31.43, 50.74,31.63]],
  [15, 0, [50.88,31.48, 50.94,31.65, 51.07,31.8, 51.23,31.9, 51.48,31.93, 51.64,31.88, 51.83,31.75, 52.05,31.6, 52.24,31.39, 52.33,31.28, 52.3,31.15, 52.24,31.1, 52.24,31, 51.09,31, 51.09,31.1, 50.96,31.24]],
  [16, 1, [50.96,31.46, 51.03,31.65, 51.13,31.82, 51.3,31.9, 51.48,31.9, 51.64,31.85, 51.81,31.73, 51.99,31.58, 52.14,31.43, 52.21,31.3, 52.14,31.18, 52.01,31.1, 52.01,31, 51.19,31, 51.19,31.1, 51.03,31.26, 50.96,31.4]],
  [17, 0, [51.1,31.48, 51.15,31.63, 51.29,31.77, 51.48,31.84, 51.64,31.8, 51.87,31.63, 52.03,31.46, 52.08,31.31, 51.99,31.2, 51.73,31.15, 51.44,31.18, 51.21,31.29]],
  [18, 0, [51.21,31.63, 51.31,31.74, 51.48,31.78, 51.68,31.7, 51.89,31.48, 51.94,31.36, 51.89,31.25, 51.68,31.2, 51.46,31.25, 51.25,31.36, 51.16,31.48]],
  [19, 0, [51.32,31.53, 51.35,31.58, 51.48,31.6, 51.56,31.51, 51.63,31.41, 51.6,31.35, 51.5,31.34, 51.38,31.42]]
];
var amb10Labels = [["0.024",50.47,33.04,18],["0.024",52.53,31.88,35],["0.022",51.49,32.94,35],["0.022",52.09,33.12,-12],["0.03",50.43,32.67,20],["0.03",51.5,32.19,5],["0.03",52.44,31.52,40],["0.04",50.44,32.34,20],["0.04",51.59,31.99,18],["0.04",50.57,31.38,15],["0.05",51.91,31.65,35],["0.05",50.99,31.53,-85]];

// legends: number of classes, tick text, one tick every so many classes
var iran02Legend = { n: 15, every: 2, labels: ["0.2","0.28","0.34","0.4","0.48","0.54","0.66","0.74"] };
var amb02Legend = { n: 29, every: 4, labels: ["0.24","0.32","0.4","0.48","0.56","0.64","0.72","0.8"] };
var amb04Legend = { n: 27, every: 5, labels: ["0.14","0.19","0.24","0.29","0.34","0.39"] };
var iran06Legend = { n: 21, every: 4, labels: ["0.16","0.24","0.32","0.4","0.48","0.56"] };
var amb06Legend = { n: 18, every: 5, labels: ["0.085","0.135","0.18","0.23"] };
var iran10Legend = { n: 22, every: 4, labels: ["0.11","0.15","0.21","0.27","0.33","0.39"] };
var amb10Legend = { n: 20, every: 3, labels: ["0.02","0.026","0.032","0.038","0.044","0.05","0.056"] };

// lsx squeezes the rotated colour bar text along its length, the scan did too
var maps = [
  { title: "Iran 2800, Period 0.2 Sec", tx: 315, ty: 24, box: [66,563,30,330], bar: [155,486,349,364], lsx: 0.82, base: iran02Base, rings: iran02Rings, labels: iran02Labels, legend: iran02Legend, city: [51.6,32.46] },
  { title: "Ambraseys et al. (2005), Period 0.2 Sec", tx: 898, ty: 24, box: [640,1160,30,334], bar: [731,1077,354,368], lsx: 0.78, base: amb02Base, rings: amb02Rings, labels: amb02Labels, legend: amb02Legend, city: [51.54,32.41] },
  { title: "Iran 2800, Period 0.4 Sec", tx: 315, ty: 403, box: [66,563,409,708], bar: [156,486,726,742], lsx: 0.82, base: iran02Base, rings: iran02Rings, labels: iran02Labels, legend: iran02Legend, city: [51.6,32.46] },
  { title: "Ambraseys et al. (2005), Period 0.4 Sec", tx: 894, ty: 402, box: [640,1152,409,722], bar: [733,1075,742,754], lsx: 0.72, base: amb04Base, rings: amb04Rings, labels: amb04Labels, legend: amb04Legend, city: [51.56,32.45] },
  { title: "Iran 2800, Period 0.6 Sec", tx: 305, ty: 788, box: [48,563,793,1107], bar: [148,491,1128,1141], lsx: 0.75, base: iran06Base, rings: iran06Rings, labels: iran06Labels, legend: iran06Legend, city: [51.58,32.39] },
  { title: "Ambraseys et al. (2005), Period 0.6 Sec", tx: 894, ty: 788, box: [640,1152,793,1109], bar: [730,1072,1129,1143], lsx: 0.7, base: amb06Base, rings: amb06Rings, labels: amb06Labels, legend: amb06Legend, city: [51.53,32.49] },
  { title: "Iran 2800, Period 1.0 Sec", tx: 315, ty: 1184, box: [66,563,1190,1492], bar: [146,477,1511,1524], lsx: 0.78, base: iran10Base, rings: iran10Rings, labels: iran10Labels, legend: iran10Legend, city: [51.52,32.45] },
  { title: "Ambraseys et al. (2005), Period 1.0 Sec", tx: 894, ty: 1185, box: [640,1152,1191,1506], bar: [740,1082,1525,1538], lsx: 0.66, base: amb10Base, rings: amb10Rings, labels: amb10Labels, legend: amb10Legend, city: [51.55,32.4] }
];

var ramp = d3.scaleLinear().domain(rampStops).range(rampColors);
var svg = d3.select("#svg1");

var pairsOf = function (flat)
{
  return d3.range(0, flat.length, 2).map(function (i) { return [flat[i], flat[i + 1]]; });
};

var drawMap = function (m, idx)
{
  var w = m.box[1] - m.box[0];
  var h = m.box[3] - m.box[2];
  var x = d3.scaleLinear().domain(lonRange).range([0, w]);
  var y = d3.scaleLinear().domain(latRange).range([h, 0]);
  var fillOf = function (band) { return ramp(band / (m.legend.n - 1)); };
  var ringPath = d3.line()
    .x(function (d) { return x(d[0]); })
    .y(function (d) { return y(d[1]); })
    .curve(d3.curveCatmullRomClosed.alpha(0.5));

  svg.append("text").attr("class", "title")
    .attr("x", m.tx).attr("y", m.ty).attr("text-anchor", "middle")
    .text(m.title);

  var g = svg.append("g").attr("transform", "translate(" + m.box[0] + "," + m.box[2] + ")");

  var defs = g.append("defs");
  defs.append("clipPath").attr("id", "clip" + idx)
    .append("rect").attr("width", w).attr("height", h);

  // contour lines stop at their labels
  var mask = defs.append("mask").attr("id", "gap" + idx)
    .attr("maskUnits", "userSpaceOnUse")
    .attr("x", -5).attr("y", -5).attr("width", w + 10).attr("height", h + 10);
  mask.append("rect").attr("x", -5).attr("y", -5).attr("width", w + 10).attr("height", h + 10).attr("fill", "white");
  mask.selectAll("rect.gap").data(m.labels).enter().append("rect")
    .attr("class", "gap")
    .attr("x", function (d) { return -d[0].length * 3.9 - 3; })
    .attr("y", -7)
    .attr("width", function (d) { return d[0].length * 7.8 + 6; })
    .attr("height", 14)
    .attr("fill", "black")
    .attr("transform", function (d) { return "translate(" + x(d[1]) + "," + y(d[2]) + ") rotate(" + d[3] + ")"; });

  var inner = g.append("g").attr("clip-path", "url(#clip" + idx + ")");
  inner.append("rect").attr("width", w).attr("height", h).attr("fill", fillOf(m.base));

  inner.selectAll("path.band").data(m.rings).enter().append("path")
    .attr("class", "band")
    .attr("d", function (d) { return ringPath(pairsOf(d[2])); })
    .attr("fill", function (d) { return fillOf(d[0]); });

  var lines = inner.append("g").attr("mask", "url(#gap" + idx + ")");
  lines.selectAll("path").data(m.rings).enter().append("path")
    .attr("d", function (d) { return ringPath(pairsOf(d[2])); })
    .attr("fill", "none")
    .attr("stroke", function (d) { return d[1] ? "#111" : "#6b5a3a"; })
    .attr("stroke-opacity", function (d) { return d[1] ? 1 : 0.45; })
    .attr("stroke-width", function (d) { return d[1] ? 1.7 : 0.7; });

  inner.selectAll("text.lab").data(m.labels).enter().append("text")
    .attr("class", "lab")
    .attr("text-anchor", "middle")
    .attr("dy", "0.35em")
    .style("font-size", "13.5px")
    .attr("transform", function (d) { return "translate(" + x(d[1]) + "," + y(d[2]) + ") rotate(" + d[3] + ")"; })
    .text(function (d) { return d[0]; });

  g.append("rect").attr("width", w).attr("height", h)
    .attr("fill", "none").attr("stroke", "#c9c5b4").attr("stroke-width", 1.2);

  // axes
  var fmt = function (d) { return d; };
  var addAxis = function (axis, tr)
  {
    var a = g.append("g").attr("transform", tr).call(axis);
    a.select(".domain").remove();
    a.selectAll("line").attr("stroke", "#c9c5b4");
    a.selectAll("text").style("font-size", "16px").style("letter-spacing", "0.3px").attr("fill", "#1a1a1a");
  };
  addAxis(d3.axisBottom(x).tickValues(lonTicks).tickFormat(fmt).tickSize(3).tickPadding(3), "translate(0," + h + ")");
  addAxis(d3.axisLeft(y).tickValues(latTicks).tickFormat(fmt).tickSize(5).tickPadding(4), "translate(0,0)");
  addAxis(d3.axisTop(x).tickValues(lonTicks).tickFormat("").tickSize(5), "translate(0,0)");
  addAxis(d3.axisRight(y).tickValues(latTicks).tickFormat("").tickSize(5), "translate(" + w + ",0)");

  // city
  var cx = x(m.city[0]);
  var cy = y(m.city[1]);
  g.append("path")
    .attr("d", d3.symbol().type(d3.symbolTriangle).size(110)())
    .attr("transform", "translate(" + cx + "," + cy + ")")
    .attr("fill", "#111");
  g.append("text")
    .attr("x", cx + 4).attr("y", cy - 6)
    .style("font-size", "15px")
    .style("letter-spacing", "0.3px")
    .text("Isfahan");

  // colour bar
  var bx = d3.scaleLinear().domain([0, m.legend.n]).range([m.bar[0], m.bar[1]]);
  var leg = svg.append("g");
  leg.selectAll("rect").data(d3.range(m.legend.n)).enter().append("rect")
    .attr("x", function (d) { return bx(d); })
    .attr("y", m.bar[2])
    .attr("width", function (d) { return bx(d + 1) - bx(d); })
    .attr("height", m.bar[3] - m.bar[2])
    .attr("fill", fillOf)
    .attr("stroke", "#9a9a8c")
    .attr("stroke-width", 0.8);
  leg.selectAll("text").data(m.legend.labels).enter().append("text")
    .style("font-size", "15px")
    .attr("dominant-baseline", "middle")
    .attr("transform", function (d, i)
    {
      return "translate(" + bx(i * m.legend.every) + "," + (m.bar[3] + 3) + ") rotate(90) scale(" + m.lsx + ",1)";
    })
    .text(function (d) { return d; });
};

maps.forEach(drawMap);
</script>
</body>
</html>
